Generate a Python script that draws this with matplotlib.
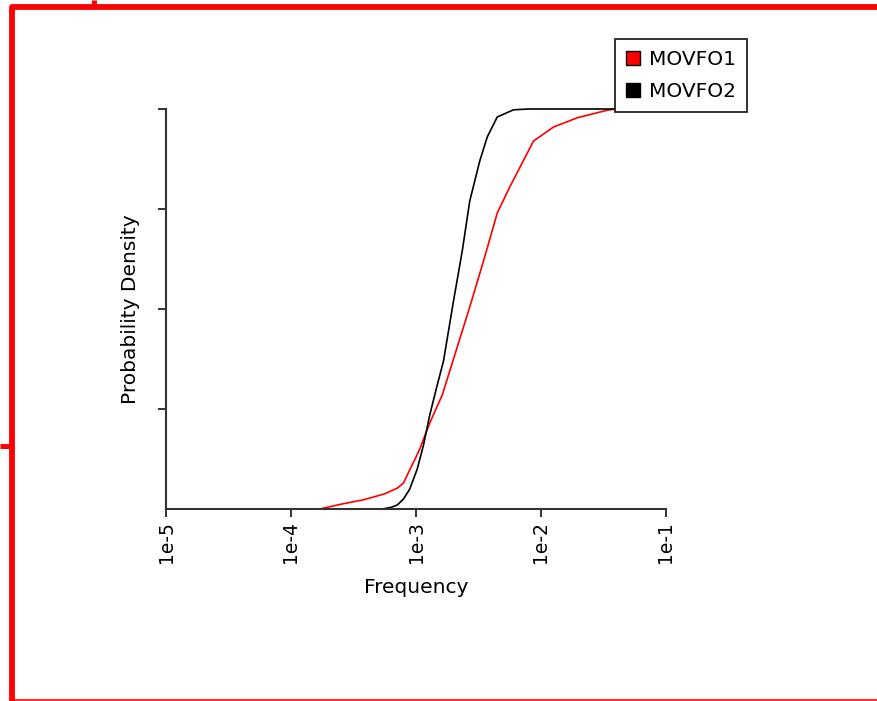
import numpy as np
import matplotlib
matplotlib.use("Agg")
import matplotlib.pyplot as plt
from matplotlib.lines import Line2D
from matplotlib.patches import Patch

plt.rcParams['font.family'] = ['DejaVu Sans']

W, H = 878, 701

## cumulative curves (log10 of frequency, probability)
movfo1_logf = [-3.77, -3.60, -3.42, -3.25, -3.15, -3.10, -3.05, -3.00, -2.97, -2.89,
               -2.79, -2.70, -2.57, -2.46, -2.35, -2.25, -2.06, -1.90, -1.71, -1.47, -1.40]
movfo1_p = [0.0, 0.012, 0.023, 0.038, 0.052, 0.065, 0.098, 0.13, 0.15, 0.215,
            0.285, 0.375, 0.505, 0.62, 0.74, 0.805, 0.92, 0.955, 0.978, 0.997, 1.0]

movfo2_logf = [-3.43, -3.27, -3.20, -3.15, -3.10, -3.05, -2.99, -2.94, -2.89, -2.83,
               -2.78, -2.70, -2.63, -2.57, -2.49, -2.43, -2.35, -2.22, -2.10, -1.00]
movfo2_p = [0.0, 0.0, 0.004, 0.01, 0.025, 0.05, 0.10, 0.16, 0.235, 0.31,
            0.37, 0.52, 0.645, 0.77, 0.87, 0.93, 0.98, 0.998, 1.0, 1.0]

series_names = ["MOVFO1", "MOVFO2"]
series_colors = ["red", "black"]

xticks = [1e-5, 1e-4, 1e-3, 1e-2, 1e-1]
xtick_labels = ["1e-5", "1e-4", "1e-3", "1e-2", "1e-1"]
yticks = [0.25, 0.5, 0.75, 1.0]

fig = plt.figure(figsize=(W / 100, H / 100), dpi=100)

def fx(x):
    return x / W

def fy(y):
    return 1 - y / H

ax = fig.add_axes([fx(166), fy(509), fx(666) - fx(166), fy(109) - fy(509)])

ax.plot(10 ** np.array(movfo1_logf), movfo1_p, color=series_colors[0], lw=1.2, clip_on=False)
ax.plot(10 ** np.array(movfo2_logf), movfo2_p, color=series_colors[1], lw=1.2, clip_on=False)

ax.set_xscale('log')
ax.set_xlim(1e-5, 1e-1)
ax.set_ylim(0, 1)
ax.set_xticks(xticks)
ax.set_xticklabels(xtick_labels, rotation=90, fontsize=13.5)
ax.minorticks_off()
ax.set_yticks(yticks)
ax.set_yticklabels([])
ax.tick_params(direction='out', length=5.5, width=1.4, color='#333333', pad=3)

for s in ['top', 'right']:
    ax.spines[s].set_visible(False)
for s in ['left', 'bottom']:
    ax.spines[s].set_linewidth(1.5)
    ax.spines[s].set_color('#333333')

ax.set_xlabel("Frequency", fontsize=14.5, labelpad=11)
ax.set_ylabel("Probability Density", fontsize=14.5, labelpad=10)

handles = [Patch(facecolor=c, edgecolor='black', linewidth=1) for c in series_colors]
leg = ax.legend(handles, series_names, loc='upper left',
                bbox_to_anchor=(fx(615), fy(39)), bbox_transform=fig.transFigure,
                borderaxespad=0, fancybox=False, framealpha=1, edgecolor='#222222',
                fontsize=14.5, handlelength=0.7, handleheight=0.7, handletextpad=0.45,
                labelspacing=0.65, borderpad=0.55)
leg.get_frame().set_linewidth(1.3)
leg.set_zorder(5)

## red frame around the picture
def frame_line(xs, ys, lw):
    fig.add_artist(Line2D([fx(x) for x in xs], [fy(y) for y in ys], color='red',
                          lw=lw, transform=fig.transFigure, solid_capstyle='butt'))

frame_line([12, 12, 878], [701, 7, 7], 4.2)
frame_line([94.5, 94.5], [0, 7], 3.6)
frame_line([0, 12], [445.5, 445.5], 3.6)
frame_line([12, 878], [699.5, 699.5], 1.2)

fig.savefig("out.png", dpi=100)
